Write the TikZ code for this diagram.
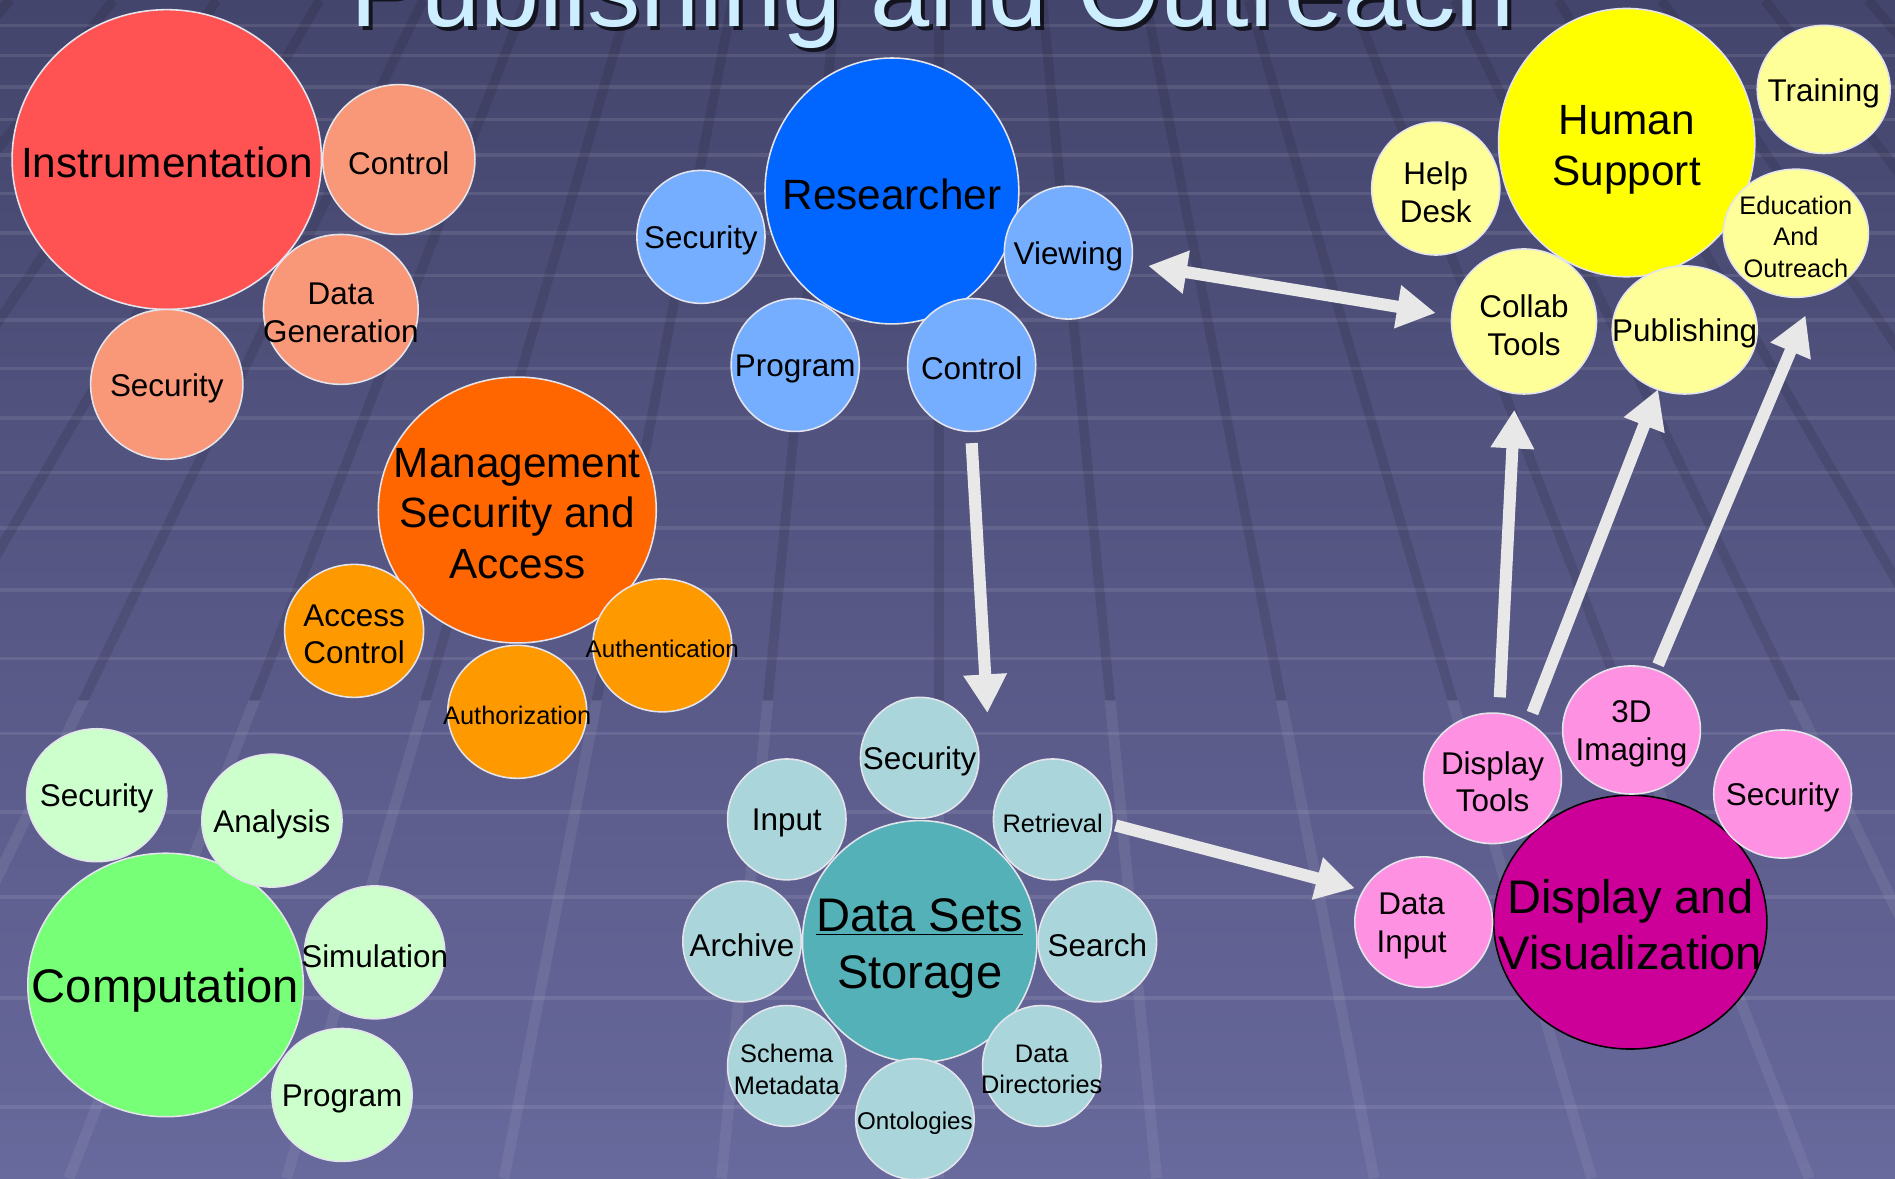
\documentclass[tikz,border=0pt]{standalone}
\usepackage{fontspec}
\setmainfont{Liberation Sans}
\usetikzlibrary{shapes.geometric,arrows.meta}

\definecolor{bgTop}{HTML}{44456C}
\definecolor{bgBottom}{HTML}{68699C}
\definecolor{rim}{HTML}{E4E4EC}
\definecolor{arrowgray}{HTML}{E8E8E8}
\definecolor{titlecyan}{HTML}{CCEEFF}
\definecolor{instRed}{HTML}{FF5252}
\definecolor{instSalmon}{HTML}{F99779}
\definecolor{resBlue}{HTML}{0066FF}
\definecolor{resLight}{HTML}{76AEFF}
\definecolor{mgmtRed}{HTML}{FF6600}
\definecolor{mgmtOrange}{HTML}{FF9900}
\definecolor{compGreen}{HTML}{78FF78}
\definecolor{compPale}{HTML}{CCFFCC}
\definecolor{dataTeal}{HTML}{55B1B8}
\definecolor{dataPale}{HTML}{AAD5DB}
\definecolor{humYellow}{HTML}{FFFF00}
\definecolor{humPale}{HTML}{FFFF99}
\definecolor{dispMagenta}{HTML}{CC0099}
\definecolor{dispPink}{HTML}{FF91E3}

\begin{document}
\begin{tikzpicture}[x=1pt,y=-1pt,
  bubble/.style={ellipse,draw=rim,line width=1.3pt,inner sep=0pt},
  hub/.style={bubble,fill=#1},
  sat/.style={bubble,fill=#1,minimum width=114,minimum height=110},
  sz/.style 2 args={minimum width=#1,minimum height=#2},
  fBig/.style={font=\fontsize{35}{42}\selectfont,align=center,yshift=-3pt},
  fHuge/.style={font=\fontsize{39}{47}\selectfont,align=center,yshift=-4pt},
  fMid/.style={font=\fontsize{26}{31}\selectfont,align=center,yshift=-3pt},
  fSmall/.style={font=\fontsize{21}{26}\selectfont,align=center,yshift=-3pt},
  fTiny/.style={font=\fontsize{20}{24}\selectfont,align=center,yshift=-3pt},
  tileline/.style={draw=white,opacity=0.09,line width=3pt},
  slantdark/.style={draw=black,opacity=0.1,line width=8pt},
  slantlight/.style={draw=white,opacity=0.07,line width=9pt},
  bigarrow/.style={draw=arrowgray,line width=10pt,-{Triangle[length=32pt,width=34pt]}},
  ]

\useasboundingbox (0,0) rectangle (1568,975);
\clip (0,0) rectangle (1568,975);

% background floor
\fill[top color=bgTop,bottom color=bgBottom] (0,0) rectangle (1568,975);
\foreach \h in {21,46,72,99,128,160,193,228,265,305,346,391,437,488,545,607,672,742,826,916}
  \draw[tileline] (0,\h) -- (1568,\h);
\begin{scope}
  \clip (0,0) rectangle (1568,580);
  \foreach \k in {-10,...,10}
    \draw[slantdark] ({777+85.4*\k},0) -- ({777+180*\k},975);
\end{scope}
\begin{scope}
  \clip (0,580) rectangle (1568,975);
  \foreach \k in {-10,...,10}
    \draw[slantlight] ({777+85.4*\k},0) -- ({777+180*\k},975);
\end{scope}

% title
\node[font=\fontsize{88}{100}\selectfont,text=black,opacity=0.7,anchor=base] (titleShadow) at (775,25) {Publishing and Outreach};
\node[font=\fontsize{88}{100}\selectfont,text=titlecyan,anchor=base] (title) at (772,22) {Publishing and Outreach};

% instrumentation
\node[hub=instRed,sz={256}{248},label={[fBig,yshift=1pt]center:Instrumentation}] (inst) at (138,132) {};
\node[sat=instSalmon,sz={126}{124},label={[fMid]center:Control}] (instCtl) at (330,132) {};
\node[sat=instSalmon,sz={128}{124},label={[fMid]center:Data\\Generation}] (instGen) at (282,256) {};
\node[sat=instSalmon,sz={126}{124},label={[fMid]center:Security}] (instSec) at (138,318) {};

% researcher
\node[hub=resBlue,sz={210}{220},label={[fBig]center:Researcher}] (res) at (738,158) {};
\node[sat=resLight,sz={106}{110},label={[fMid]center:Security}] (resSec) at (580,196) {};
\node[sat=resLight,sz={106}{110},label={[fMid]center:Viewing}] (resView) at (884,209) {};
\node[sat=resLight,sz={106}{110},label={[fMid]center:Program}] (resProg) at (658,302) {};
\node[sat=resLight,sz={106}{110},label={[fMid]center:Control}] (resCtl) at (804,302) {};

% management
\node[hub=mgmtRed,sz={230}{220},label={[fBig]center:Management\\Security and\\Access}] (mgmt) at (428,422) {};
\node[sat=mgmtOrange,sz={115}{110},label={[fMid]center:Access\\Control}] (mgmtAcc) at (293,522) {};
\node[sat=mgmtOrange,sz={115}{110},label={[fTiny]center:Authentication}] (mgmtAuthn) at (548,534) {};
\node[sat=mgmtOrange,sz={115}{110},label={[fSmall]center:Authorization}] (mgmtAuthz) at (428,589) {};

% computation
\node[hub=compGreen,sz={228}{218},label={[fHuge]center:Computation}] (comp) at (137,815) {};
\node[sat=compPale,sz={116}{110},label={[fMid]center:Security}] (compSec) at (80,658) {};
\node[sat=compPale,sz={116}{110},label={[fMid]center:Analysis}] (compAna) at (225,679) {};
\node[sat=compPale,sz={116}{110},label={[fMid]center:Simulation}] (compSim) at (310,788) {};
\node[sat=compPale,sz={116}{110},label={[fMid]center:Program}] (compProg) at (283,906) {};

% data sets
\node[hub=dataTeal,sz={194}{200},label={[fHuge,yshift=-2pt]center:\underline{Data Sets}\\Storage}] (data) at (761,779) {};
\node[sat=dataPale,sz={98}{100},label={[fMid]center:Security}] (dataSec) at (761,627) {};
\node[sat=dataPale,sz={98}{100},label={[fMid]center:Input}] (dataIn) at (651,678) {};
\node[sat=dataPale,sz={98}{100},label={[fSmall]center:Retrieval}] (dataRet) at (871,678) {};
\node[sat=dataPale,sz={98}{100},label={[fMid]center:Archive}] (dataArc) at (614,779) {};
\node[sat=dataPale,sz={98}{100},label={[fMid]center:Search}] (dataSrch) at (908,779) {};
\node[sat=dataPale,sz={98}{100},label={[fSmall]center:Schema\\Metadata}] (dataSch) at (651,882) {};
\node[sat=dataPale,sz={98}{100},label={[fSmall]center:Data\\Directories}] (dataDir) at (862,882) {};
\node[sat=dataPale,sz={98}{100},label={[fTiny]center:Ontologies}] (dataOnt) at (757,926) {};

% human support
\node[hub=humYellow,sz={212}{222},label={[fBig,yshift=-3pt]center:Human\\Support}] (hum) at (1346,118) {};
\node[sat=humPale,sz={110}{106},label={[fMid]center:Training}] (humTrain) at (1509,74) {};
\node[sat=humPale,sz={106}{110},label={[fMid]center:Help\\Desk}] (humHelp) at (1188,156) {};
\node[sat=humPale,sz={120}{106},label={[fSmall]center:Education\\And\\Outreach}] (humEdu) at (1486,193) {};
\node[sat=humPale,sz={120}{120},label={[fMid]center:Collab\\Tools}] (humCollab) at (1261,266) {};
\node[sat=humPale,sz={120}{106},label={[fMid]center:Publishing}] (humPub) at (1394,273) {};

% display and visualization
\node[hub=dispMagenta,draw=black,sz={226}{210},label={[fHuge,yshift=2pt]center:Display and\\Visualization}] (disp) at (1349,763) {};
\node[sat=dispPink,sz={114}{108},label={[fMid]center:Display\\Tools}] (dispTools) at (1235,644) {};
\node[sat=dispPink,sz={114}{106},label={[fMid]center:3D\\Imaging}] (dispImg) at (1350,604) {};
\node[sat=dispPink,sz={114}{106},label={[fMid]center:Security}] (dispSec) at (1475,657) {};
\node[sat=dispPink,sz={114}{108},label={[fMid,xshift=-10pt]center:Data\\Input}] (dispIn) at (1178,763) {};

% arrows
\coordinate (viewOut) at (950,220);
\coordinate (collabIn) at (1188,259);
\coordinate (ctlOut) at ([yshift=-9pt]resCtl.south);
\coordinate (storeIn) at (817,590);
\coordinate (retOut) at (923,683);
\coordinate (inputIn) at (1121,735);
\coordinate (toolsOut) at (1241,577);
\coordinate (collabUp) at (1253,339);
\coordinate (toolsOut2) at (1268,590);
\coordinate (pubUp) at (1372,322);
\coordinate (imgOut) at (1372,550);
\coordinate (eduUp) at (1494,261);

\draw[bigarrow,{Triangle[length=32pt,width=34pt]}-{Triangle[length=32pt,width=34pt]}] (viewOut) -- (collabIn);
\draw[bigarrow] (ctlOut) -- (storeIn);
\draw[bigarrow] (retOut) -- (inputIn);
\draw[bigarrow] (toolsOut) -- (collabUp);
\draw[bigarrow] (toolsOut2) -- (pubUp);
\draw[bigarrow] (imgOut) -- (eduUp);
\end{tikzpicture}
\end{document}
